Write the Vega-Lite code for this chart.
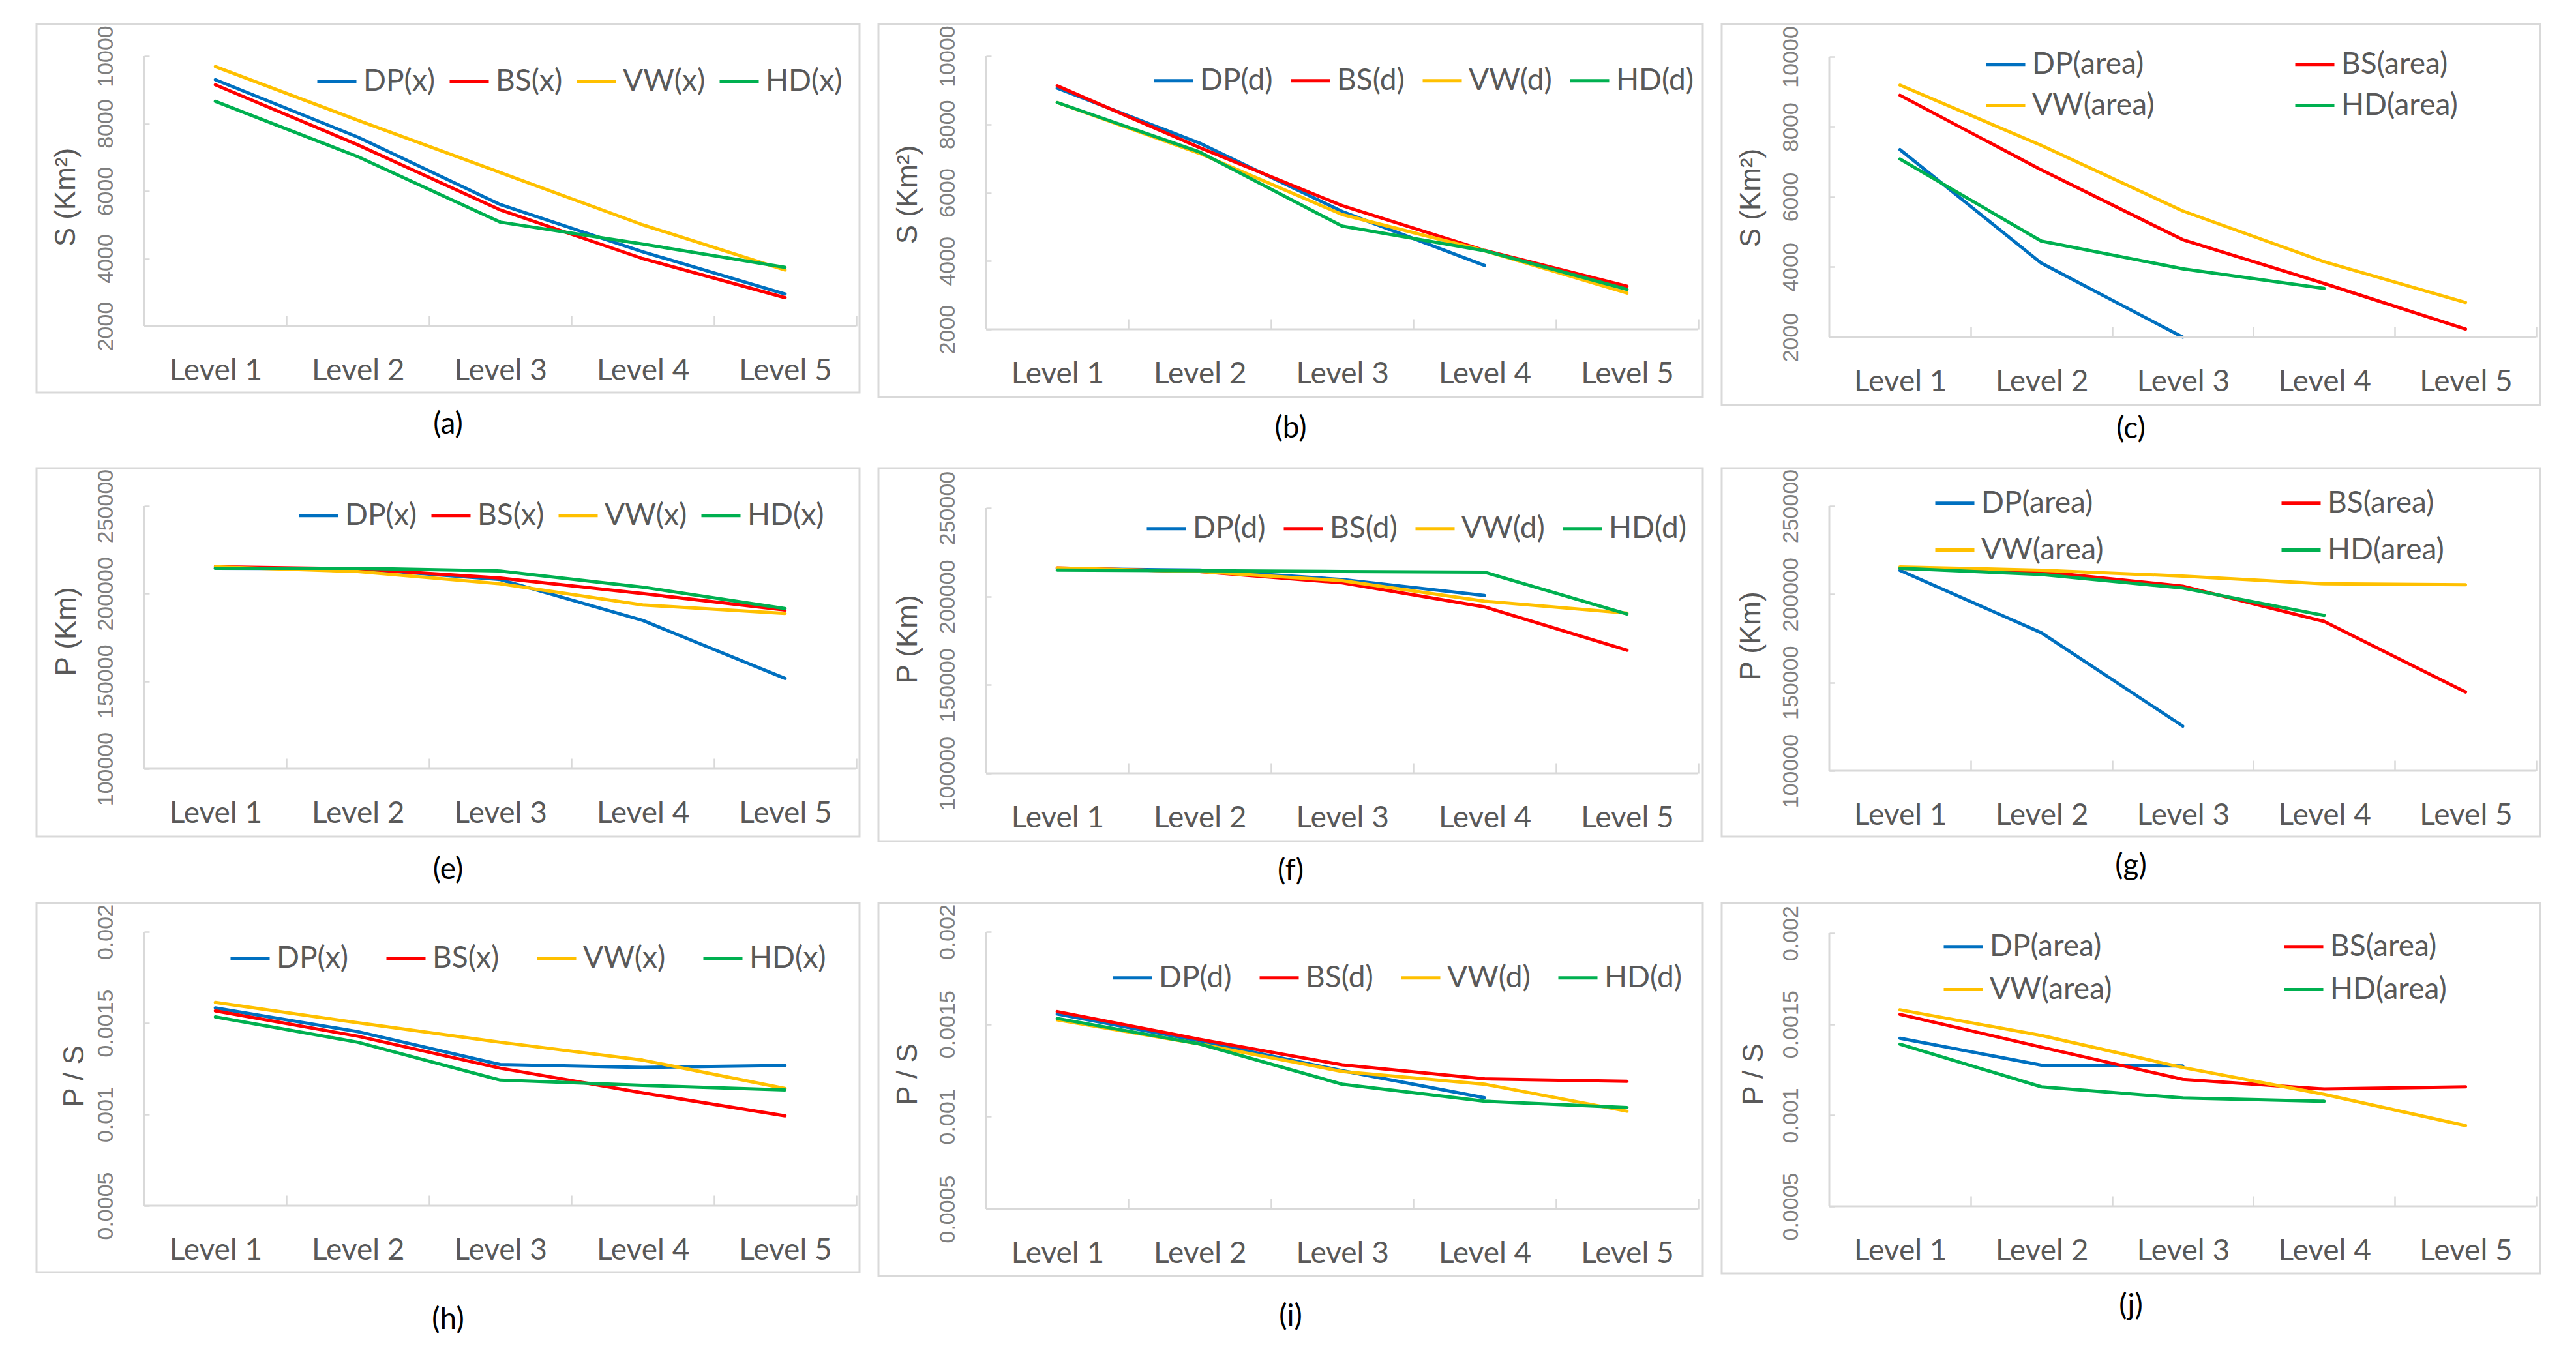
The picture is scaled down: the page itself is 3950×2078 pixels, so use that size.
{
"$schema": "https://vega.github.io/schema/vega-lite/v6.json",
"background": "white",
"padding": {"left": 54, "top": 35, "right": 10, "bottom": 10},
"datasets": {
"a": [
{"series":"DP(x)","level":1,"value":9300},{"series":"DP(x)","level":2,"value":7600},{"series":"DP(x)","level":3,"value":5600},{"series":"DP(x)","level":4,"value":4200},{"series":"DP(x)","level":5,"value":2950},
{"series":"BS(x)","level":1,"value":9150},{"series":"BS(x)","level":2,"value":7370},{"series":"BS(x)","level":3,"value":5440},{"series":"BS(x)","level":4,"value":4000},{"series":"BS(x)","level":5,"value":2840},
{"series":"VW(x)","level":1,"value":9690},{"series":"VW(x)","level":2,"value":8100},{"series":"VW(x)","level":3,"value":6550},{"series":"VW(x)","level":4,"value":5000},{"series":"VW(x)","level":5,"value":3660},
{"series":"HD(x)","level":1,"value":8660},{"series":"HD(x)","level":2,"value":7020},{"series":"HD(x)","level":3,"value":5080},{"series":"HD(x)","level":4,"value":4430},{"series":"HD(x)","level":5,"value":3740}],
"b": [
{"series":"DP(d)","level":1,"value":9060},{"series":"DP(d)","level":2,"value":7450},{"series":"DP(d)","level":3,"value":5450},{"series":"DP(d)","level":4,"value":3870},
{"series":"BS(d)","level":1,"value":9130},{"series":"BS(d)","level":2,"value":7320},{"series":"BS(d)","level":3,"value":5620},{"series":"BS(d)","level":4,"value":4310},{"series":"BS(d)","level":5,"value":3260},
{"series":"VW(d)","level":1,"value":8640},{"series":"VW(d)","level":2,"value":7150},{"series":"VW(d)","level":3,"value":5360},{"series":"VW(d)","level":4,"value":4300},{"series":"VW(d)","level":5,"value":3060},
{"series":"HD(d)","level":1,"value":8640},{"series":"HD(d)","level":2,"value":7190},{"series":"HD(d)","level":3,"value":5020},{"series":"HD(d)","level":4,"value":4300},{"series":"HD(d)","level":5,"value":3170}],
"c": [
{"series":"DP(area)","level":1,"value":7350},{"series":"DP(area)","level":2,"value":4110},{"series":"DP(area)","level":3,"value":2000},
{"series":"BS(area)","level":1,"value":8900},{"series":"BS(area)","level":2,"value":6770},{"series":"BS(area)","level":3,"value":4780},{"series":"BS(area)","level":4,"value":3530},{"series":"BS(area)","level":5,"value":2230},
{"series":"VW(area)","level":1,"value":9190},{"series":"VW(area)","level":2,"value":7470},{"series":"VW(area)","level":3,"value":5600},{"series":"VW(area)","level":4,"value":4150},{"series":"VW(area)","level":5,"value":2990},
{"series":"HD(area)","level":1,"value":7080},{"series":"HD(area)","level":2,"value":4740},{"series":"HD(area)","level":3,"value":3950},{"series":"HD(area)","level":4,"value":3390}],
"e": [
{"series":"DP(x)","level":1,"value":214500},{"series":"DP(x)","level":2,"value":214200},{"series":"DP(x)","level":3,"value":208000},{"series":"DP(x)","level":4,"value":184700},{"series":"DP(x)","level":5,"value":151600},
{"series":"BS(x)","level":1,"value":215300},{"series":"BS(x)","level":2,"value":214200},{"series":"BS(x)","level":3,"value":208900},{"series":"BS(x)","level":4,"value":200000},{"series":"BS(x)","level":5,"value":190600},
{"series":"VW(x)","level":1,"value":215300},{"series":"VW(x)","level":2,"value":212600},{"series":"VW(x)","level":3,"value":205600},{"series":"VW(x)","level":4,"value":193500},{"series":"VW(x)","level":5,"value":188700},
{"series":"HD(x)","level":1,"value":214500},{"series":"HD(x)","level":2,"value":214500},{"series":"HD(x)","level":3,"value":212900},{"series":"HD(x)","level":4,"value":203700},{"series":"HD(x)","level":5,"value":191500}],
"f": [
{"series":"DP(d)","level":1,"value":215700},{"series":"DP(d)","level":2,"value":214900},{"series":"DP(d)","level":3,"value":209600},{"series":"DP(d)","level":4,"value":200500},
{"series":"BS(d)","level":1,"value":216100},{"series":"BS(d)","level":2,"value":214100},{"series":"BS(d)","level":3,"value":207700},{"series":"BS(d)","level":4,"value":194100},{"series":"BS(d)","level":5,"value":169600},
{"series":"VW(d)","level":1,"value":216100},{"series":"VW(d)","level":2,"value":214100},{"series":"VW(d)","level":3,"value":208900},{"series":"VW(d)","level":4,"value":197300},{"series":"VW(d)","level":5,"value":190600},
{"series":"HD(d)","level":1,"value":214900},{"series":"HD(d)","level":2,"value":214500},{"series":"HD(d)","level":3,"value":214100},{"series":"HD(d)","level":4,"value":213700},{"series":"HD(d)","level":5,"value":190100}],
"g": [
{"series":"DP(area)","level":1,"value":213500},{"series":"DP(area)","level":2,"value":178200},{"series":"DP(area)","level":3,"value":125300},
{"series":"BS(area)","level":1,"value":214700},{"series":"BS(area)","level":2,"value":212800},{"series":"BS(area)","level":3,"value":204600},{"series":"BS(area)","level":4,"value":184600},{"series":"BS(area)","level":5,"value":144600},
{"series":"VW(area)","level":1,"value":215500},{"series":"VW(area)","level":2,"value":213600},{"series":"VW(area)","level":3,"value":210300},{"series":"VW(area)","level":4,"value":205900},{"series":"VW(area)","level":5,"value":205400},
{"series":"HD(area)","level":1,"value":214700},{"series":"HD(area)","level":2,"value":211200},{"series":"HD(area)","level":3,"value":203500},{"series":"HD(area)","level":4,"value":188000}],
"h": [
{"series":"DP(x)","level":1,"value":0.001583},{"series":"DP(x)","level":2,"value":0.001453},{"series":"DP(x)","level":3,"value":0.001273},{"series":"DP(x)","level":4,"value":0.001257},{"series":"DP(x)","level":5,"value":0.001268},
{"series":"BS(x)","level":1,"value":0.001567},{"series":"BS(x)","level":2,"value":0.001428},{"series":"BS(x)","level":3,"value":0.001253},{"series":"BS(x)","level":4,"value":0.001118},{"series":"BS(x)","level":5,"value":0.000992},
{"series":"VW(x)","level":1,"value":0.001613},{"series":"VW(x)","level":2,"value":0.001502},{"series":"VW(x)","level":3,"value":0.001395},{"series":"VW(x)","level":4,"value":0.001297},{"series":"VW(x)","level":5,"value":0.001142},
{"series":"HD(x)","level":1,"value":0.001534},{"series":"HD(x)","level":2,"value":0.001395},{"series":"HD(x)","level":3,"value":0.001188},{"series":"HD(x)","level":4,"value":0.001159},{"series":"HD(x)","level":5,"value":0.001134}],
"i": [
{"series":"DP(d)","level":1,"value":0.001555},{"series":"DP(d)","level":2,"value":0.001409},{"series":"DP(d)","level":3,"value":0.001248},{"series":"DP(d)","level":4,"value":0.001102},
{"series":"BS(d)","level":1,"value":0.001568},{"series":"BS(d)","level":2,"value":0.001418},{"series":"BS(d)","level":3,"value":0.00128},{"series":"BS(d)","level":4,"value":0.001204},{"series":"BS(d)","level":5,"value":0.001191},
{"series":"VW(d)","level":1,"value":0.001523},{"series":"VW(d)","level":2,"value":0.001393},{"series":"VW(d)","level":3,"value":0.001244},{"series":"VW(d)","level":4,"value":0.001175},{"series":"VW(d)","level":5,"value":0.001029},
{"series":"HD(d)","level":1,"value":0.001531},{"series":"HD(d)","level":2,"value":0.001393},{"series":"HD(d)","level":3,"value":0.001175},{"series":"HD(d)","level":4,"value":0.001083},{"series":"HD(d)","level":5,"value":0.001049}],
"j": [
{"series":"DP(area)","level":1,"value":0.001423},{"series":"DP(area)","level":2,"value":0.001275},{"series":"DP(area)","level":3,"value":0.001271},
{"series":"BS(area)","level":1,"value":0.001554},{"series":"BS(area)","level":2,"value":0.001374},{"series":"BS(area)","level":3,"value":0.001197},{"series":"BS(area)","level":4,"value":0.001144},{"series":"BS(area)","level":5,"value":0.001156},
{"series":"VW(area)","level":1,"value":0.001579},{"series":"VW(area)","level":2,"value":0.001438},{"series":"VW(area)","level":3,"value":0.001262},{"series":"VW(area)","level":4,"value":0.001115},{"series":"VW(area)","level":5,"value":0.000943},
{"series":"HD(area)","level":1,"value":0.00139},{"series":"HD(area)","level":2,"value":0.001156},{"series":"HD(area)","level":3,"value":0.001095},{"series":"HD(area)","level":4,"value":0.001077}]
},
"spacing": 33,
"resolve": {"scale": {"color": "independent", "x": "independent", "y": "independent"}, "legend": {"color": "independent"}, "axis": {"x": "independent", "y": "independent"}},
"vconcat": [
{"hconcat": [
{"width": 1262, "height": 565, "title": {"text": "(a)", "offset": 27},
 "layer": [
  {"data": {"name": "a"}, "mark": {"type": "line", "strokeWidth": 5, "strokeJoin": "round", "strokeCap": "round"},
   "encoding": {
    "x": {"field": "level", "type": "quantitative", "scale": {"domain": [-0.2555, 5.5229], "nice": false, "zero": false}, "axis": {"orient": "bottom", "offset": -102, "values": [1.5,2.5,3.5,4.5,5.5], "labelExpr": "'Level ' + (datum.value - 0.5)", "labelOffset": -109, "title": null}},
    "y": {"field": "value", "type": "quantitative", "scale": {"domain": [29, 10947], "nice": false, "zero": false}, "axis": {"orient": "left", "offset": -165, "values": [2000,4000,6000,8000,10000], "format": "d", "title": "S (Km²)", "titleX": -120, "titleY": 265}},
    "color": {"field": "series", "type": "nominal", "scale": {"domain": ["DP(x)","BS(x)","VW(x)","HD(x)"], "range": ["#0070C0","#FF0000","#FFC000","#00B050"]}, "legend": {"title": null, "orient": "none", "legendX": 428, "legendY": 55, "direction": "horizontal", "columns": 4, "columnPadding": 11}}
   }},
  {"data": {"values": [{}]}, "mark": {"type": "rule", "color": "#d9d9d9", "strokeWidth": 3}, "encoding": {"x": {"datum": 0.5, "type": "quantitative"}, "y": {"datum": 2000, "type": "quantitative"}, "y2": {"datum": 10000}}},
  {"data": {"values": [{}]}, "mark": {"type": "rule", "color": "#d9d9d9", "strokeWidth": 3}, "encoding": {"x": {"datum": 0.5, "type": "quantitative"}, "x2": {"datum": 5.5}, "y": {"datum": 2000, "type": "quantitative"}}}
 ]},
{"width": 1264, "height": 572, "title": {"text": "(b)", "offset": 26},
 "layer": [
  {"data": {"name": "b"}, "mark": {"type": "line", "strokeWidth": 5, "strokeJoin": "round", "strokeCap": "round"},
   "encoding": {
    "x": {"field": "level", "type": "quantitative", "scale": {"domain": [-0.2555, 5.5321], "nice": false, "zero": false}, "axis": {"orient": "bottom", "offset": -104, "values": [1.5,2.5,3.5,4.5,5.5], "labelExpr": "'Level ' + (datum.value - 0.5)", "labelOffset": -109, "title": null}},
    "y": {"field": "value", "type": "quantitative", "scale": {"domain": [14, 10936], "nice": false, "zero": false}, "axis": {"orient": "left", "offset": -165, "values": [2000,4000,6000,8000,10000], "format": "d", "title": "S (Km²)", "titleX": -120, "titleY": 261}},
    "color": {"field": "series", "type": "nominal", "scale": {"domain": ["DP(d)","BS(d)","VW(d)","HD(d)"], "range": ["#0070C0","#FF0000","#FFC000","#00B050"]}, "legend": {"title": null, "orient": "none", "legendX": 420, "legendY": 54, "direction": "horizontal", "columns": 4, "columnPadding": 17}}
   }},
  {"data": {"values": [{}]}, "mark": {"type": "rule", "color": "#d9d9d9", "strokeWidth": 3}, "encoding": {"x": {"datum": 0.5, "type": "quantitative"}, "y": {"datum": 2000, "type": "quantitative"}, "y2": {"datum": 10000}}},
  {"data": {"values": [{}]}, "mark": {"type": "rule", "color": "#d9d9d9", "strokeWidth": 3}, "encoding": {"x": {"datum": 0.5, "type": "quantitative"}, "x2": {"datum": 5.5}, "y": {"datum": 2000, "type": "quantitative"}}}
 ]},
{"width": 1255, "height": 584, "title": {"text": "(c)", "offset": 15},
 "layer": [
  {"data": {"name": "c"}, "mark": {"type": "line", "strokeWidth": 5, "strokeJoin": "round", "strokeCap": "round"},
   "encoding": {
    "x": {"field": "level", "type": "quantitative", "scale": {"domain": [-0.2611, 5.5277], "nice": false, "zero": false}, "axis": {"orient": "bottom", "offset": -104, "values": [1.5,2.5,3.5,4.5,5.5], "labelExpr": "'Level ' + (datum.value - 0.5)", "labelOffset": -108, "title": null}},
    "y": {"field": "value", "type": "quantitative", "scale": {"domain": [65, 10930], "nice": false, "zero": false}, "axis": {"orient": "left", "offset": -165, "values": [2000,4000,6000,8000,10000], "format": "d", "title": "S (Km²)", "titleX": -120, "titleY": 266}},
    "color": {"field": "series", "type": "nominal", "scale": {"domain": ["DP(area)","BS(area)","VW(area)","HD(area)"], "range": ["#0070C0","#FF0000","#FFC000","#00B050"]}, "legend": {"title": null, "orient": "none", "legendX": 403, "legendY": 29, "direction": "horizontal", "columns": 2, "columnPadding": 205, "rowPadding": 7}}
   }},
  {"data": {"values": [{}]}, "mark": {"type": "rule", "color": "#d9d9d9", "strokeWidth": 3}, "encoding": {"x": {"datum": 0.5, "type": "quantitative"}, "y": {"datum": 2000, "type": "quantitative"}, "y2": {"datum": 10000}}},
  {"data": {"values": [{}]}, "mark": {"type": "rule", "color": "#d9d9d9", "strokeWidth": 3}, "encoding": {"x": {"datum": 0.5, "type": "quantitative"}, "x2": {"datum": 5.5}, "y": {"datum": 2000, "type": "quantitative"}}}
 ]}
], "spacing": 25, "resolve": {"scale": {"color": "independent", "x": "independent", "y": "independent"}, "legend": {"color": "independent"}, "axis": {"x": "independent", "y": "independent"}}},
{"vconcat": [
{"hconcat": [
{"width": 1262, "height": 565, "title": {"text": "(e)", "offset": 29},
 "layer": [
  {"data": {"name": "e"}, "mark": {"type": "line", "strokeWidth": 5, "strokeJoin": "round", "strokeCap": "round"},
   "encoding": {
    "x": {"field": "level", "type": "quantitative", "scale": {"domain": [-0.2555, 5.5229], "nice": false, "zero": false}, "axis": {"orient": "bottom", "offset": -104, "values": [1.5,2.5,3.5,4.5,5.5], "labelExpr": "'Level ' + (datum.value - 0.5)", "labelOffset": -109, "title": null}},
    "y": {"field": "value", "type": "quantitative", "scale": {"domain": [61290, 271588], "nice": false, "zero": false}, "axis": {"orient": "left", "offset": -165, "values": [100000,150000,200000,250000], "format": "d", "title": "P (Km)", "titleX": -119, "titleY": 250}},
    "color": {"field": "series", "type": "nominal", "scale": {"domain": ["DP(x)","BS(x)","VW(x)","HD(x)"], "range": ["#0070C0","#FF0000","#FFC000","#00B050"]}, "legend": {"title": null, "orient": "none", "legendX": 400, "legendY": 40, "direction": "horizontal", "columns": 4, "columnPadding": 11}}
   }},
  {"data": {"values": [{}]}, "mark": {"type": "rule", "color": "#d9d9d9", "strokeWidth": 3}, "encoding": {"x": {"datum": 0.5, "type": "quantitative"}, "y": {"datum": 100000, "type": "quantitative"}, "y2": {"datum": 250000}}},
  {"data": {"values": [{}]}, "mark": {"type": "rule", "color": "#d9d9d9", "strokeWidth": 3}, "encoding": {"x": {"datum": 0.5, "type": "quantitative"}, "x2": {"datum": 5.5}, "y": {"datum": 100000, "type": "quantitative"}}}
 ]},
{"width": 1264, "height": 572, "title": {"text": "(f)", "offset": 24},
 "layer": [
  {"data": {"name": "f"}, "mark": {"type": "line", "strokeWidth": 5, "strokeJoin": "round", "strokeCap": "round"},
   "encoding": {
    "x": {"field": "level", "type": "quantitative", "scale": {"domain": [-0.2555, 5.5321], "nice": false, "zero": false}, "axis": {"orient": "bottom", "offset": -104, "values": [1.5,2.5,3.5,4.5,5.5], "labelExpr": "'Level ' + (datum.value - 0.5)", "labelOffset": -109, "title": null}},
    "y": {"field": "value", "type": "quantitative", "scale": {"domain": [61671, 272482], "nice": false, "zero": false}, "axis": {"orient": "left", "offset": -165, "values": [100000,150000,200000,250000], "format": "d", "title": "P (Km)", "titleX": -120, "titleY": 262}},
    "color": {"field": "series", "type": "nominal", "scale": {"domain": ["DP(d)","BS(d)","VW(d)","HD(d)"], "range": ["#0070C0","#FF0000","#FFC000","#00B050"]}, "legend": {"title": null, "orient": "none", "legendX": 409, "legendY": 60, "direction": "horizontal", "columns": 4, "columnPadding": 17}}
   }},
  {"data": {"values": [{}]}, "mark": {"type": "rule", "color": "#d9d9d9", "strokeWidth": 3}, "encoding": {"x": {"datum": 0.5, "type": "quantitative"}, "y": {"datum": 100000, "type": "quantitative"}, "y2": {"datum": 250000}}},
  {"data": {"values": [{}]}, "mark": {"type": "rule", "color": "#d9d9d9", "strokeWidth": 3}, "encoding": {"x": {"datum": 0.5, "type": "quantitative"}, "x2": {"datum": 5.5}, "y": {"datum": 100000, "type": "quantitative"}}}
 ]},
{"width": 1255, "height": 565, "title": {"text": "(g)", "offset": 23},
 "layer": [
  {"data": {"name": "g"}, "mark": {"type": "line", "strokeWidth": 5, "strokeJoin": "round", "strokeCap": "round"},
   "encoding": {
    "x": {"field": "level", "type": "quantitative", "scale": {"domain": [-0.2611, 5.5277], "nice": false, "zero": false}, "axis": {"orient": "bottom", "offset": -101, "values": [1.5,2.5,3.5,4.5,5.5], "labelExpr": "'Level ' + (datum.value - 0.5)", "labelOffset": -108, "title": null}},
    "y": {"field": "value", "type": "quantitative", "scale": {"domain": [62685, 271429], "nice": false, "zero": false}, "axis": {"orient": "left", "offset": -165, "values": [100000,150000,200000,250000], "format": "d", "title": "P (Km)", "titleX": -120, "titleY": 257}},
    "color": {"field": "series", "type": "nominal", "scale": {"domain": ["DP(area)","BS(area)","VW(area)","HD(area)"], "range": ["#0070C0","#FF0000","#FFC000","#00B050"]}, "legend": {"title": null, "orient": "none", "legendX": 325, "legendY": 21, "direction": "horizontal", "columns": 2, "columnPadding": 262, "rowPadding": 16}}
   }},
  {"data": {"values": [{}]}, "mark": {"type": "rule", "color": "#d9d9d9", "strokeWidth": 3}, "encoding": {"x": {"datum": 0.5, "type": "quantitative"}, "y": {"datum": 100000, "type": "quantitative"}, "y2": {"datum": 250000}}},
  {"data": {"values": [{}]}, "mark": {"type": "rule", "color": "#d9d9d9", "strokeWidth": 3}, "encoding": {"x": {"datum": 0.5, "type": "quantitative"}, "x2": {"datum": 5.5}, "y": {"datum": 100000, "type": "quantitative"}}}
 ]}
], "spacing": 25, "resolve": {"scale": {"color": "independent", "x": "independent", "y": "independent"}, "legend": {"color": "independent"}, "axis": {"x": "independent", "y": "independent"}}},
{"hconcat": [
{"width": 1262, "height": 566, "title": {"text": "(h)", "offset": 51},
 "layer": [
  {"data": {"name": "h"}, "mark": {"type": "line", "strokeWidth": 5, "strokeJoin": "round", "strokeCap": "round"},
   "encoding": {
    "x": {"field": "level", "type": "quantitative", "scale": {"domain": [-0.2555, 5.5229], "nice": false, "zero": false}, "axis": {"orient": "bottom", "offset": -102, "values": [1.5,2.5,3.5,4.5,5.5], "labelExpr": "'Level ' + (datum.value - 0.5)", "labelOffset": -109, "title": null}},
    "y": {"field": "value", "type": "quantitative", "scale": {"domain": [0.0001357, 0.0021571], "nice": false, "zero": false}, "axis": {"orient": "left", "offset": -165, "values": [0.0005,0.001,0.0015,0.002], "format": "~g", "title": "P / S", "titleX": -107, "titleY": 265}},
    "color": {"field": "series", "type": "nominal", "scale": {"domain": ["DP(x)","BS(x)","VW(x)","HD(x)"], "range": ["#0070C0","#FF0000","#FFC000","#00B050"]}, "legend": {"title": null, "orient": "none", "legendX": 295, "legendY": 52, "direction": "horizontal", "columns": 4, "columnPadding": 47}}
   }},
  {"data": {"values": [{}]}, "mark": {"type": "rule", "color": "#d9d9d9", "strokeWidth": 3}, "encoding": {"x": {"datum": 0.5, "type": "quantitative"}, "y": {"datum": 0.0005, "type": "quantitative"}, "y2": {"datum": 0.002}}},
  {"data": {"values": [{}]}, "mark": {"type": "rule", "color": "#d9d9d9", "strokeWidth": 3}, "encoding": {"x": {"datum": 0.5, "type": "quantitative"}, "x2": {"datum": 5.5}, "y": {"datum": 0.0005, "type": "quantitative"}}}
 ]},
{"width": 1264, "height": 572, "title": {"text": "(i)", "offset": 40},
 "layer": [
  {"data": {"name": "i"}, "mark": {"type": "line", "strokeWidth": 5, "strokeJoin": "round", "strokeCap": "round"},
   "encoding": {
    "x": {"field": "level", "type": "quantitative", "scale": {"domain": [-0.2555, 5.5321], "nice": false, "zero": false}, "axis": {"orient": "bottom", "offset": -103, "values": [1.5,2.5,3.5,4.5,5.5], "labelExpr": "'Level ' + (datum.value - 0.5)", "labelOffset": -109, "title": null}},
    "y": {"field": "value", "type": "quantitative", "scale": {"domain": [0.00013647, 0.0021553], "nice": false, "zero": false}, "axis": {"orient": "left", "offset": -165, "values": [0.0005,0.001,0.0015,0.002], "format": "~g", "title": "P / S", "titleX": -120, "titleY": 262}},
    "color": {"field": "series", "type": "nominal", "scale": {"domain": ["DP(d)","BS(d)","VW(d)","HD(d)"], "range": ["#0070C0","#FF0000","#FFC000","#00B050"]}, "legend": {"title": null, "orient": "none", "legendX": 357, "legendY": 82, "direction": "horizontal", "columns": 4, "columnPadding": 32}}
   }},
  {"data": {"values": [{}]}, "mark": {"type": "rule", "color": "#d9d9d9", "strokeWidth": 3}, "encoding": {"x": {"datum": 0.5, "type": "quantitative"}, "y": {"datum": 0.0005, "type": "quantitative"}, "y2": {"datum": 0.002}}},
  {"data": {"values": [{}]}, "mark": {"type": "rule", "color": "#d9d9d9", "strokeWidth": 3}, "encoding": {"x": {"datum": 0.5, "type": "quantitative"}, "x2": {"datum": 5.5}, "y": {"datum": 0.0005, "type": "quantitative"}}}
 ]},
{"width": 1255, "height": 568, "title": {"text": "(j)", "offset": 28},
 "layer": [
  {"data": {"name": "j"}, "mark": {"type": "line", "strokeWidth": 5, "strokeJoin": "round", "strokeCap": "round"},
   "encoding": {
    "x": {"field": "level", "type": "quantitative", "scale": {"domain": [-0.2611, 5.5277], "nice": false, "zero": false}, "axis": {"orient": "bottom", "offset": -103, "values": [1.5,2.5,3.5,4.5,5.5], "labelExpr": "'Level ' + (datum.value - 0.5)", "labelOffset": -108, "title": null}},
    "y": {"field": "value", "type": "quantitative", "scale": {"domain": [0.00013126, 0.0021647], "nice": false, "zero": false}, "axis": {"orient": "left", "offset": -165, "values": [0.0005,0.001,0.0015,0.002], "format": "~g", "title": "P / S", "titleX": -116, "titleY": 262}},
    "color": {"field": "series", "type": "nominal", "scale": {"domain": ["DP(area)","BS(area)","VW(area)","HD(area)"], "range": ["#0070C0","#FF0000","#FFC000","#00B050"]}, "legend": {"title": null, "orient": "none", "legendX": 338, "legendY": 34, "direction": "horizontal", "columns": 2, "columnPadding": 253, "rowPadding": 10}}
   }},
  {"data": {"values": [{}]}, "mark": {"type": "rule", "color": "#d9d9d9", "strokeWidth": 3}, "encoding": {"x": {"datum": 0.5, "type": "quantitative"}, "y": {"datum": 0.0005, "type": "quantitative"}, "y2": {"datum": 0.002}}},
  {"data": {"values": [{}]}, "mark": {"type": "rule", "color": "#d9d9d9", "strokeWidth": 3}, "encoding": {"x": {"datum": 0.5, "type": "quantitative"}, "x2": {"datum": 5.5}, "y": {"datum": 0.0005, "type": "quantitative"}}}
 ]}
], "spacing": 25, "resolve": {"scale": {"color": "independent", "x": "independent", "y": "independent"}, "legend": {"color": "independent"}, "axis": {"x": "independent", "y": "independent"}}}
], "spacing": 22, "resolve": {"scale": {"color": "independent", "x": "independent", "y": "independent"}, "legend": {"color": "independent"}, "axis": {"x": "independent", "y": "independent"}}}
],
"config": {
 "view": {"stroke": "#d9d9d9", "strokeWidth": 3, "fill": "white"},
 "title": {"orient": "bottom", "anchor": "middle", "font": "Lato", "fontSize": 46, "fontWeight": "normal", "color": "#000000", "baseline": "top"},
 "axis": {"grid": false},
 "axisX": {"domain": false, "ticks": true, "tickSize": -16, "tickColor": "#d9d9d9", "tickWidth": 2.5, "labelPadding": 84, "labelBaseline": "middle", "labelAlign": "center", "labelAngle": 0, "labelFont": "Lato", "labelFontSize": 46, "labelColor": "#595959", "labelFlush": false, "labelOverlap": false, "labelBound": false},
 "axisY": {"domain": false, "ticks": true, "tickSize": -8, "tickColor": "#d9d9d9", "tickWidth": 2.5, "labelPadding": 67, "labelAngle": 270, "labelAlign": "center", "labelBaseline": "middle", "labelFont": "Liberation Sans", "labelFontSize": 34, "labelColor": "#7f7f7f", "labelFlush": false, "labelOverlap": false, "labelBound": false, "titleFont": "Liberation Sans", "titleFontSize": 44, "titleFontWeight": "normal", "titleColor": "#595959", "titleAngle": 270, "titleAlign": "center", "titleBaseline": "middle"},
 "legend": {"symbolType": "stroke", "symbolSize": 3600, "symbolStrokeWidth": 5, "labelFont": "Lato", "labelFontSize": 46, "labelColor": "#595959", "labelOffset": 8, "padding": 0, "labelLimit": 600}
}
}
